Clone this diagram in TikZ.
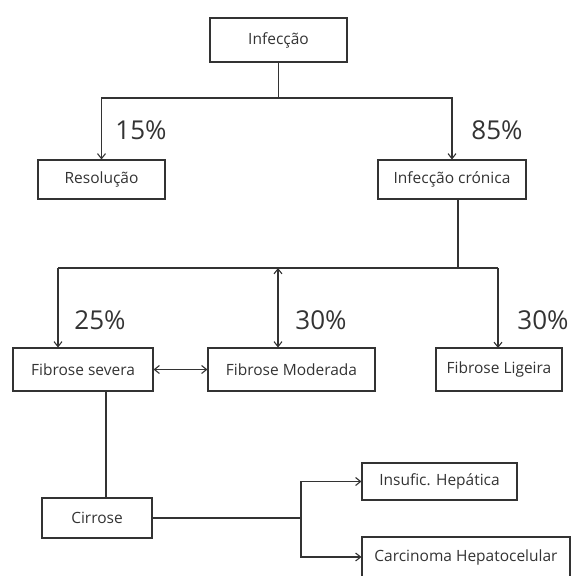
\documentclass[tikz,border=0pt]{standalone}
\usepackage{fontspec}
\setmainfont{Open Sans}
\usetikzlibrary{arrows.meta}

\begin{document}
\begin{tikzpicture}[x=1pt, y=-1pt,
    caixa/.style={draw, line width=1.1pt, inner sep=0pt, font=\fontsize{15.5}{18}\selectfont},
    pct/.style={font=\fontsize{26}{30}\selectfont},
    seta/.style={-{Straight Barb[length=5pt, width=8pt]}},
    duasetas/.style={{Straight Barb[length=5pt, width=8pt]}-{Straight Barb[length=5pt, width=8pt]}}]
    \useasboundingbox (0,0) rectangle (573,576);
    \tikzset{every path/.style={line width=1.1pt, draw=black!80}}
    \color{black!80}

    \node[caixa, minimum width=137pt, minimum height=44pt] (inf) at (278.5,40) {Infecção};
    \node[caixa, minimum width=127pt, minimum height=39pt] (res) at (101.5,179.5) {Resolução};
    \node[caixa, minimum width=148pt, minimum height=39pt] (cron) at (452,179.5) {Infecção crónica};
    \node[caixa, minimum width=140pt, minimum height=43pt] (sev) at (83,369.5) {Fibrose severa};
    \node[caixa, minimum width=167pt, minimum height=43pt] (mod) at (291.5,369.5) {Fibrose Moderada};
    \node[caixa, minimum width=126pt, minimum height=43pt] (lig) at (499,369.5) {Fibrose Ligeira};
    \node[caixa, minimum width=110pt, minimum height=40pt] (cir) at (97,518) {Cirrose};
    \node[caixa, minimum width=155pt, minimum height=37pt] (ins) at (439.5,481.5) {Insufic. Hepática};
    \node[caixa, minimum width=208pt, minimum height=40pt] (carc) at (466,557) {Carcinoma Hepatocelular};

    \node[pct] (p15) at (141,130) {15\%};
    \node[pct] (p85) at (497,130) {85\%};
    \node[pct] (p25) at (100,320) {25\%};
    \node[pct] (p30a) at (321,320) {30\%};
    \node[pct] (p30b) at (543,320) {30\%};

    % primeiro nivel
    \coordinate (j1) at (278.5,98);
    \draw (inf) -- (j1);
    \draw[seta] (j1) -| (res);
    \draw[seta] (j1) -| (cron);

    % segundo nivel
    \coordinate (j2) at (458,268);
    \coordinate (a1) at (58,268);
    \coordinate (a2) at (278,268);
    \draw (cron.south -| j2) -- (j2);
    \draw (a1) -- (498,268);
    \draw[seta] (a1) -- (a1 |- sev.north);
    \draw[duasetas] (a2) -- (a2 |- mod.north);
    \draw[seta] (498,268) -- (498,348);
    \draw[duasetas] (sev) -- (mod);

    % cirrose
    \coordinate (c1) at (106,0);
    \draw (sev.south -| c1) -- (cir.north -| c1);
    \coordinate (c2) at (301,518);
    \draw (cir) -- (c2);
    \draw[seta] (c2) |- (ins);
    \draw[seta] (c2) |- (carc);
\end{tikzpicture}
\end{document}
